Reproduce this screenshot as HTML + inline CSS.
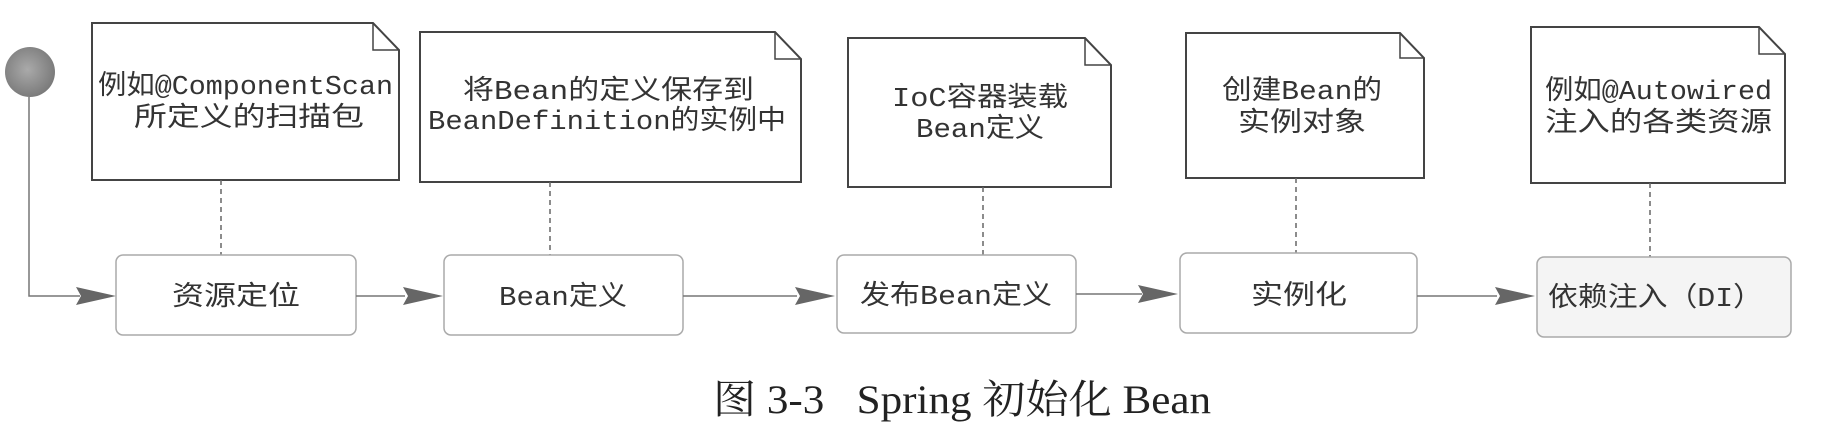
<!DOCTYPE html>
<html><head><meta charset="utf-8"><style>
html,body{margin:0;padding:0;background:#fff;}
svg{display:block;}
.m{font-family:"Liberation Mono","Noto Sans CJK SC",monospace;font-size:27px;fill:#333;}
.s{font-family:"Liberation Serif","Noto Serif CJK SC",serif;font-size:40px;fill:#222;}
</style></head><body>
<svg width="1826" height="432" viewBox="0 0 1826 432" xmlns="http://www.w3.org/2000/svg">
<defs>
<radialGradient id="g" cx="0.45" cy="0.45" r="0.6"><stop offset="0" stop-color="#aaa"/><stop offset="1" stop-color="#777"/></radialGradient>
<g id="ah"><path d="M0,-9 L40,0 L0,9 L5,0 Z" fill="#666"/></g>
</defs>
<circle cx="30" cy="72" r="25" fill="url(#g)"/>
<polyline points="29,97 29,296 80,296" fill="none" stroke="#777" stroke-width="1.5"/>
<use href="#ah" x="76" y="296"/>

<!-- notes -->
<g fill="#fff" stroke="#444" stroke-width="2">
<path d="M92,23 L373,23 L399,50 L399,180 L92,180 Z"/>
<path d="M420,32 L775,32 L801,59 L801,182 L420,182 Z"/>
<path d="M848,38 L1085,38 L1111,65 L1111,187 L848,187 Z"/>
<path d="M1186,33 L1400,33 L1424,58 L1424,178 L1186,178 Z"/>
<path d="M1531,27 L1759,27 L1785,54 L1785,183 L1531,183 Z"/>
</g>
<g fill="none" stroke="#444" stroke-width="1.5">
<path d="M373,23 L373,50 L399,50"/>
<path d="M775,32 L775,59 L801,59"/>
<path d="M1085,38 L1085,65 L1111,65"/>
<path d="M1400,33 L1400,58 L1424,58"/>
<path d="M1759,27 L1759,54 L1785,54"/>
</g>
<!-- dashed -->
<g stroke="#666" stroke-width="1.5" stroke-dasharray="5,4">
<line x1="221" y1="180" x2="221" y2="255"/>
<line x1="550" y1="182" x2="550" y2="255"/>
<line x1="983" y1="187" x2="983" y2="255"/>
<line x1="1296" y1="178" x2="1296" y2="253"/>
<line x1="1650" y1="183" x2="1650" y2="257"/>
</g>
<!-- boxes -->
<g stroke="#aaa" stroke-width="1.5">
<rect x="116" y="255" width="240" height="80" rx="7" fill="#fff"/>
<rect x="444" y="255" width="239" height="80" rx="7" fill="#fff"/>
<rect x="837" y="255" width="239" height="78" rx="7" fill="#fff"/>
<rect x="1180" y="253" width="237" height="80" rx="7" fill="#fff"/>
<rect x="1537" y="257" width="254" height="80" rx="7" fill="#f4f4f4"/>
</g>
<!-- arrows -->
<g stroke="#777" stroke-width="1.5">
<line x1="356" y1="296" x2="405" y2="296"/>
<line x1="683" y1="296" x2="797" y2="296"/>
<line x1="1076" y1="294" x2="1142" y2="294"/>
<line x1="1417" y1="296" x2="1497" y2="296"/>
</g>
<use href="#ah" x="403" y="296"/>
<use href="#ah" x="795" y="296"/>
<use href="#ah" x="1138" y="294"/>
<use href="#ah" x="1495" y="296"/>

<!-- note text -->
<g class="m" text-anchor="start">
<text x="98" y="94" textLength="295" lengthAdjust="spacingAndGlyphs">例如@ComponentScan</text>
<text x="134" y="126" textLength="230" lengthAdjust="spacingAndGlyphs">所定义的扫描包</text>
<text x="463" y="99" textLength="291" lengthAdjust="spacingAndGlyphs">将Bean的定义保存到</text>
<text x="428" y="129" textLength="358" lengthAdjust="spacingAndGlyphs">BeanDefinition的实例中</text>
<text x="892" y="106" textLength="176" lengthAdjust="spacingAndGlyphs">IoC容器装载</text>
<text x="916" y="137" textLength="128" lengthAdjust="spacingAndGlyphs">Bean定义</text>
<text x="1222" y="99" textLength="160" lengthAdjust="spacingAndGlyphs">创建Bean的</text>
<text x="1238" y="131" textLength="128" lengthAdjust="spacingAndGlyphs">实例对象</text>
<text x="1545" y="99" textLength="227" lengthAdjust="spacingAndGlyphs">例如@Autowired</text>
<text x="1545" y="131" textLength="227" lengthAdjust="spacingAndGlyphs">注入的各类资源</text>
<!-- box text -->
<text x="172" y="305" textLength="128" lengthAdjust="spacingAndGlyphs">资源定位</text>
<text x="499" y="305" textLength="128" lengthAdjust="spacingAndGlyphs">Bean定义</text>
<text x="860" y="304" textLength="192" lengthAdjust="spacingAndGlyphs">发布Bean定义</text>
<text x="1251" y="304" textLength="96" lengthAdjust="spacingAndGlyphs">实例化</text>
<text x="1548" y="306" textLength="215" lengthAdjust="spacingAndGlyphs">依赖注入（DI）</text>
</g>
<text class="s" x="713" y="413" textLength="498" lengthAdjust="spacingAndGlyphs" xml:space="preserve">图 3-3   Spring 初始化 Bean</text>
</svg>
</body></html>
